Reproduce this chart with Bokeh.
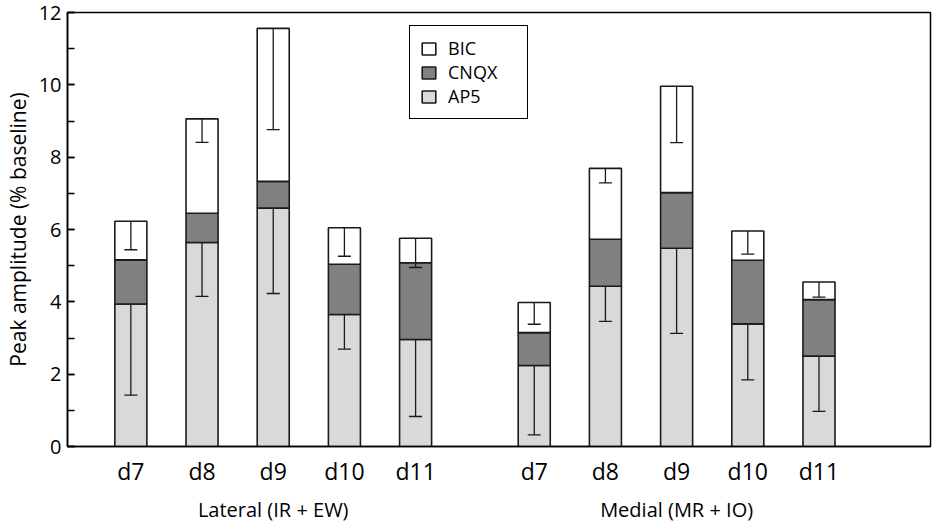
from bokeh.plotting import figure
from bokeh.models import (ColumnDataSource, Whisker, TeeHead, Legend, LegendItem,
                          LinearAxis, FixedTicker, SingleIntervalTicker, Range1d)
from bokeh.embed import file_html
from bokeh.resources import INLINE

# ---- data ----
groups = ["Lateral (IR + EW)", "Medial (MR + IO)"]
days = ["d7", "d8", "d9", "d10", "d11"]

# cumulative peak amplitude (% baseline) after each drug, per group
ap5_lat = [3.94, 5.64, 6.59, 3.65, 2.96]
cnqx_lat = [5.16, 6.45, 7.33, 5.04, 5.08]
bic_lat = [6.23, 9.06, 11.56, 6.05, 5.76]
ap5_err_lat = [1.42, 4.15, 4.23, 2.69, 0.83]
bic_err_lat = [5.44, 8.41, 8.76, 5.26, 4.95]

ap5_med = [2.24, 4.43, 5.48, 3.39, 2.50]
cnqx_med = [3.15, 5.73, 7.02, 5.15, 4.06]
bic_med = [3.98, 7.69, 9.96, 5.96, 4.55]
ap5_err_med = [0.32, 3.46, 3.13, 1.84, 0.97]
bic_err_med = [3.38, 7.29, 8.40, 5.32, 4.13]

# ---- layout of categories on a numeric axis ----
STEP = 3          # distance between days
GROUP_GAP = 5     # distance between last day of group 1 and first of group 2
xs = []
for gi in range(len(groups)):
    for di in range(len(days)):
        xs.append(gi * (STEP * (len(days) - 1) + GROUP_GAP) + di * STEP)
group_centers = [xs[gi * len(days) + len(days) // 2] for gi in range(len(groups))]

ap5 = ap5_lat + ap5_med
cnqx = cnqx_lat + cnqx_med
bic = bic_lat + bic_med
ap5_err = ap5_err_lat + ap5_err_med
bic_err = bic_err_lat + bic_err_med

src = ColumnDataSource(dict(x=xs, ap5=ap5, cnqx=cnqx, bic=bic,
                            ap5_err=ap5_err, bic_err=bic_err,
                            zero=[0] * len(xs)))

FONT = "Open Sans"
OUT = "#1a1a1a"

p = figure(width=935, height=526, output_backend="svg", toolbar_location=None,
           x_range=Range1d(-2.67, 33.7), y_range=Range1d(0, 12),
           min_border_left=65, min_border_right=5, min_border_top=12, min_border_bottom=80,
           x_axis_type=None)
p.grid.visible = False
p.outline_line_color = "black"
p.outline_line_width = 1.5
p.outline_line_alpha = 1
p.background_fill_color = "white"
p.border_fill_color = "white"

BW = 1.35
r_ap5 = p.vbar(x="x", width=BW, bottom="zero", top="ap5", source=src,
               fill_color="#d9d9d9", line_color=OUT, line_width=1.6)
r_cnqx = p.vbar(x="x", width=BW, bottom="ap5", top="cnqx", source=src,
                fill_color="#808080", line_color=OUT, line_width=1.6)
r_bic = p.vbar(x="x", width=BW, bottom="cnqx", top="bic", source=src,
               fill_color="white", line_color=OUT, line_width=1.6)

for top, low in (("ap5", "ap5_err"), ("bic", "bic_err")):
    w = Whisker(base="x", upper=top, lower=low, source=src, dimension="height",
                line_color=OUT, line_width=1.3, level="annotation",
                upper_head=None,
                lower_head=TeeHead(size=13, line_color=OUT, line_width=1.3))
    p.add_layout(w)

# y axis
ya = p.yaxis[0]
ya.ticker = SingleIntervalTicker(interval=2, num_minor_ticks=2)
ya.axis_label = "Peak amplitude (% baseline)"
ya.axis_label_text_font = FONT
ya.axis_label_text_font_size = "21px"
ya.axis_label_text_font_style = "normal"
ya.axis_label_text_color = "black"
ya.axis_label_standoff = 4
ya.major_label_text_font = FONT
ya.major_label_text_font_size = "20px"
ya.major_label_text_color = "black"
ya.major_label_standoff = 6
ya.major_tick_in = 7
ya.major_tick_out = 0
ya.minor_tick_in = 7
ya.minor_tick_out = 0
ya.axis_line_width = 1.6
ya.axis_line_color = "black"
ya.major_tick_line_color = "black"
ya.minor_tick_line_color = "black"
ya.major_tick_line_width = 1.3
ya.minor_tick_line_width = 1.3

# x axis: day labels
xa = LinearAxis(ticker=FixedTicker(ticks=xs),
                major_label_overrides={x: days[i % len(days)] for i, x in enumerate(xs)})
xa.major_tick_line_color = None
xa.minor_tick_line_color = None
xa.axis_line_color = "black"
xa.axis_line_width = 1.6
xa.major_label_text_font = FONT
xa.major_label_text_font_size = "23px"
xa.major_label_text_color = "black"
xa.major_label_standoff = 2
p.add_layout(xa, "below")

# x axis: group labels
ga = LinearAxis(ticker=FixedTicker(ticks=group_centers),
                major_label_overrides={c: groups[i] for i, c in enumerate(group_centers)})
ga.axis_line_color = None
ga.major_tick_line_color = None
ga.minor_tick_line_color = None
ga.major_label_text_font = FONT
ga.major_label_text_font_size = "20px"
ga.major_label_text_color = "black"
ga.major_label_standoff = 0
p.add_layout(ga, "below")

legend = Legend(items=[LegendItem(label="BIC", renderers=[r_bic]),
                       LegendItem(label="CNQX", renderers=[r_cnqx]),
                       LegendItem(label="AP5", renderers=[r_ap5])],
                location=(342, 327))
legend.label_text_font = FONT
legend.label_text_font_size = "18px"
legend.label_text_color = "black"
legend.glyph_width = 17
legend.glyph_height = 15
legend.label_width = 69
legend.spacing = 0
legend.padding = 10
legend.label_standoff = 11
legend.border_line_color = "black"
legend.border_line_alpha = 1
legend.border_line_width = 1.5
legend.background_fill_alpha = 1
p.add_layout(legend)

open("out.html", "w").write(file_html(p, INLINE))
